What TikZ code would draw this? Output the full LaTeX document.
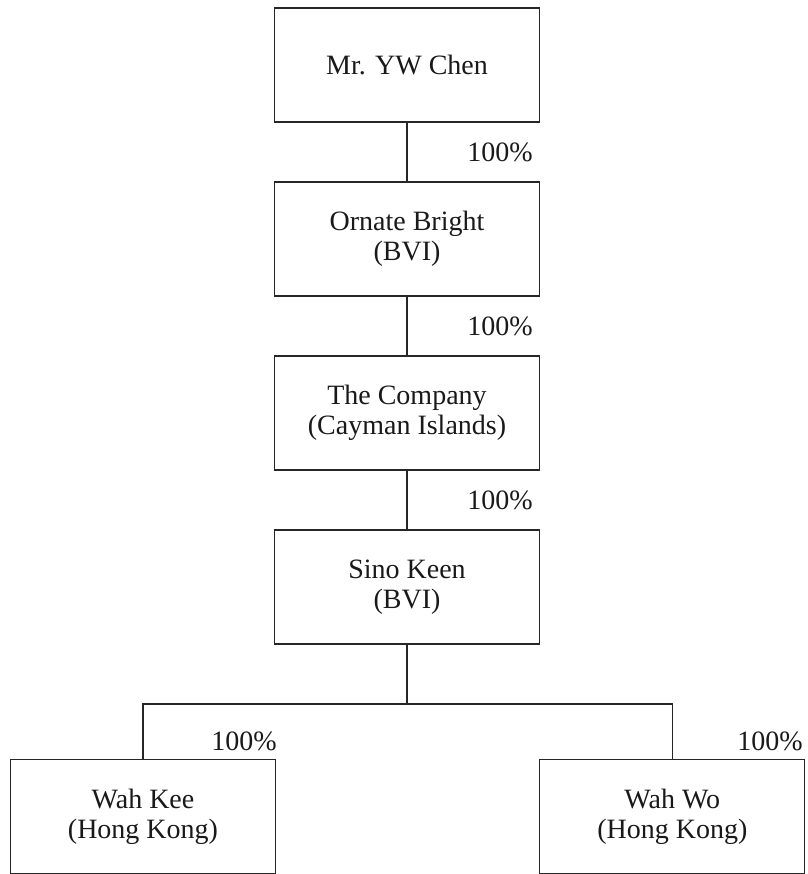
\documentclass[tikz,border=0pt]{standalone}
\usepackage{fontspec}
\setmainfont{Liberation Serif}
\tikzset{
  entity/.style={draw=black!85, line width=0.6pt, minimum width=132.5pt, minimum height=57pt,
    align=center, font=\fontsize{14}{15}\selectfont, text=black!90, inner sep=0pt},
  share/.style={anchor=base east, font=\fontsize{14}{15}\selectfont, text=black!90, inner sep=0pt},
  link/.style={draw=black!85, line width=0.6pt}
}
\begin{document}
\begin{tikzpicture}[x=0.5pt,y=-0.5pt]
\useasboundingbox (0,0) rectangle (808,874);
% ownership chain
\node[entity] (chen) at (407,65) {Mr. YW Chen};
\node[entity] (ornate) at (407,239) {Ornate Bright\\(BVI)};
\node[entity] (company) at (407,413) {The Company\\(Cayman Islands)};
\node[entity] (sino) at (407,587) {Sino Keen\\(BVI)};
\node[entity] (kee) at (143,816.5) {Wah Kee\\(Hong Kong)};
\node[entity] (wo) at (672.3,816.5) {Wah Wo\\(Hong Kong)};
\coordinate (split) at (407,704);
\draw[link] (chen) -- (ornate);
\draw[link] (ornate) -- (company);
\draw[link] (company) -- (sino);
\draw[link] (sino) -- (split);
\draw[link] (split) -| (kee);
\draw[link] (split) -| (wo);
% percentages
\node[share] (p1) at (533,161) {100\%};
\node[share] (p2) at (533,335) {100\%};
\node[share] (p3) at (533,509) {100\%};
\node[share] (p4) at (277,750) {100\%};
\node[share] (p5) at (803,750) {100\%};
\end{tikzpicture}
\end{document}
